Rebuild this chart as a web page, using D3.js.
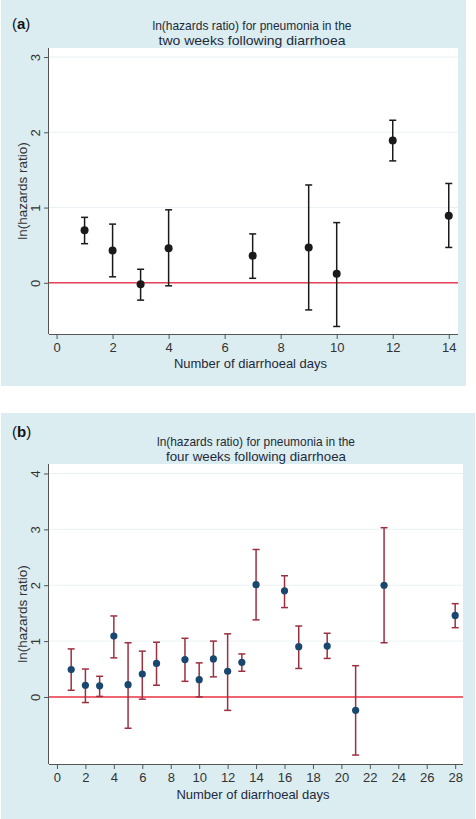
<!DOCTYPE html>
<html><head><meta charset="utf-8">
<script src="https://cdn.jsdelivr.net/npm/d3@7"></script>
<style>
html,body{margin:0;padding:0;background:#fff;}
svg{display:block;font-family:"Liberation Sans",Arial,sans-serif;}
</style></head>
<body>
<svg id="chart" width="476" height="819"></svg>
<script>
// ---- Data ----
const daysA = [1, 2, 3, 4, 7, 9, 10, 12, 14];
const estA  = [0.70, 0.43, -0.02, 0.46, 0.36, 0.47, 0.12, 1.89, 0.89];
const lowA  = [0.52, 0.08, -0.23, -0.04, 0.06, -0.36, -0.58, 1.62, 0.47];
const highA = [0.87, 0.78, 0.18, 0.97, 0.65, 1.30, 0.80, 2.16, 1.32];
const xTicksA = [0, 2, 4, 6, 8, 10, 12, 14];
const yTicksA = [0, 1, 2, 3];

const daysB = [1, 2, 3, 4, 5, 6, 7, 9, 10, 11, 12, 13, 14, 16, 17, 19, 21, 23, 28];
const estB  = [0.49, 0.21, 0.20, 1.09, 0.22, 0.41, 0.60, 0.67, 0.31, 0.68, 0.46, 0.62, 2.01, 1.90, 0.90, 0.91, -0.24, 2.00, 1.46];
const lowB  = [0.12, -0.10, 0.01, 0.70, -0.56, -0.04, 0.21, 0.28, 0.00, 0.36, -0.24, 0.46, 1.38, 1.60, 0.51, 0.69, -1.04, 0.97, 1.24];
const highB = [0.86, 0.50, 0.37, 1.45, 0.97, 0.82, 0.98, 1.05, 0.61, 1.00, 1.13, 0.77, 2.64, 2.17, 1.27, 1.14, 0.56, 3.03, 1.67];
const xTicksB = [0, 2, 4, 6, 8, 10, 12, 14, 16, 18, 20, 22, 24, 26, 28];
const yTicksB = [0, 1, 2, 3, 4];

const titleA = ["ln(hazards ratio) for pneumonia in the", "two weeks following diarrhoea"];
const titleB = ["ln(hazards ratio) for pneumonia in the", "four weeks following diarrhoea"];
const xLabel = "Number of diarrhoeal days";
const yLabel = "ln(hazards ratio)";

const svg = d3.select("#chart");
const BG = "#dcedf1";

function panel(cfg) {
  const g = svg.append("g");
  g.append("rect").attr("x", cfg.bx).attr("y", cfg.by).attr("width", cfg.bw).attr("height", cfg.bh)
    .attr("fill", BG);
  g.append("rect").attr("x", cfg.left).attr("y", cfg.top)
    .attr("width", cfg.right - cfg.left).attr("height", cfg.bottom - cfg.top).attr("fill", "#fff");

  const x = d3.scaleLinear().domain(cfg.xDomain).range([cfg.left, cfg.right]);
  const y = d3.scaleLinear().domain(cfg.yDomain).range([cfg.bottom, cfg.top]);

  g.selectAll(".grid").data(cfg.yTicks).enter().append("line")
    .attr("x1", cfg.left).attr("x2", cfg.right)
    .attr("y1", d => y(d)).attr("y2", d => y(d))
    .attr("stroke", "#eaf1f3").attr("stroke-width", 1);

  const xAxis = d3.axisBottom(x).tickValues(cfg.xTicks).tickFormat(d3.format("d")).tickSize(5).tickPadding(4);
  const gx = g.append("g").attr("transform", `translate(0,${cfg.bottom})`).call(xAxis);
  gx.select(".domain").attr("stroke", "#555").attr("d", `M${cfg.left},0.5H${cfg.right}`);
  gx.selectAll(".tick line").attr("stroke", "#555");
  gx.selectAll("text").attr("font-size", 13).attr("fill", "#333")
    .attr("font-family", "Liberation Sans, Arial, sans-serif");

  const yAxis = d3.axisLeft(y).tickValues(cfg.yTicks).tickFormat(d3.format("d")).tickSize(5);
  const gy = g.append("g").attr("transform", `translate(${cfg.left},0)`).call(yAxis);
  gy.select(".domain").attr("stroke", "#555").attr("d", `M-0.5,${cfg.top}V${cfg.bottom}`);
  gy.selectAll(".tick line").attr("stroke", "#555");
  gy.selectAll("text").attr("font-size", 13).attr("fill", "#333")
    .attr("font-family", "Liberation Sans, Arial, sans-serif")
    .attr("x", null).attr("dy", null)
    .attr("text-anchor", "middle")
    .attr("transform", "translate(-9,0) rotate(-90)");

  g.append("line").attr("x1", cfg.left).attr("x2", cfg.right)
    .attr("y1", y(0)).attr("y2", y(0))
    .attr("stroke", cfg.refColor).attr("stroke-width", 1.6);

  const cap = 3.5;
  const data = cfg.days.map((d, i) => ({d, e: cfg.est[i], lo: cfg.low[i], hi: cfg.high[i]}));
  const eb = g.append("g").attr("stroke", cfg.barColor).attr("stroke-width", 1.5).attr("fill", "none");
  data.forEach(p => {
    eb.append("line").attr("x1", x(p.d)).attr("x2", x(p.d)).attr("y1", y(p.lo)).attr("y2", y(p.hi));
    eb.append("line").attr("x1", x(p.d) - cap).attr("x2", x(p.d) + cap).attr("y1", y(p.lo)).attr("y2", y(p.lo));
    eb.append("line").attr("x1", x(p.d) - cap).attr("x2", x(p.d) + cap).attr("y1", y(p.hi)).attr("y2", y(p.hi));
  });
  g.selectAll(".pt").data(data).enter().append("circle")
    .attr("cx", p => x(p.d)).attr("cy", p => y(p.e)).attr("r", cfg.r)
    .attr("fill", cfg.ptColor);

  cfg.title.forEach((t, i) => {
    g.append("text").attr("x", cfg.titleX).attr("y", cfg.titleY + i * 15)
      .attr("text-anchor", "middle").attr("font-size", 13.5).attr("fill", "#1e2a3a")
      .attr("textLength", cfg.titleLen[i]).attr("lengthAdjust", "spacingAndGlyphs")
      .text(t);
  });
  const lt = g.append("text").attr("x", cfg.bx + 11).attr("y", cfg.letterY)
    .attr("font-size", 15).attr("fill", "#111");
  lt.append("tspan").text("(");
  lt.append("tspan").attr("font-weight", "bold").text(cfg.letter);
  lt.append("tspan").text(")");

  g.append("text").attr("x", (cfg.left + cfg.right) / 2 - 3).attr("y", cfg.xLabelY)
    .attr("text-anchor", "middle").attr("font-size", 13).attr("fill", "#1e2a3a").text(xLabel);
  g.append("text").attr("transform", `translate(${cfg.yLabelX},${(cfg.top + cfg.bottom) / 2}) rotate(-90)`)
    .attr("text-anchor", "middle").attr("font-size", 13.5).attr("fill", "#333").text(yLabel);
}

panel({
  bx: 1, by: 0, bw: 465, bh: 386,
  left: 49, right: 458, top: 48, bottom: 334,
  xDomain: [-0.27, 14.33], yDomain: [-0.68, 3.12],
  xTicks: xTicksA, yTicks: yTicksA,
  days: daysA, est: estA, low: lowA, high: highA,
  refColor: "#e8405a", barColor: "#1a1a1a", ptColor: "#1a1a1a", r: 4,
  title: titleA, titleX: 252, titleY: 30, titleLen: [199, 187],
  letter: "a", letterY: 29,
  xLabelY: 368, yLabelX: 27
});

panel({
  bx: 1, by: 413, bw: 474, bh: 406,
  left: 49, right: 463, top: 464, bottom: 764,
  xDomain: [-0.56, 28.55], yDomain: [-1.2, 4.17],
  xTicks: xTicksB, yTicks: yTicksB,
  days: daysB, est: estB, low: lowB, high: highB,
  refColor: "#ee3344", barColor: "#9b3040", ptColor: "#1a476f", r: 3.6,
  title: titleB, titleX: 256, titleY: 446, titleLen: [198, 180],
  letter: "b", letterY: 437,
  xLabelY: 799, yLabelX: 27
});
</script>
</body></html>
